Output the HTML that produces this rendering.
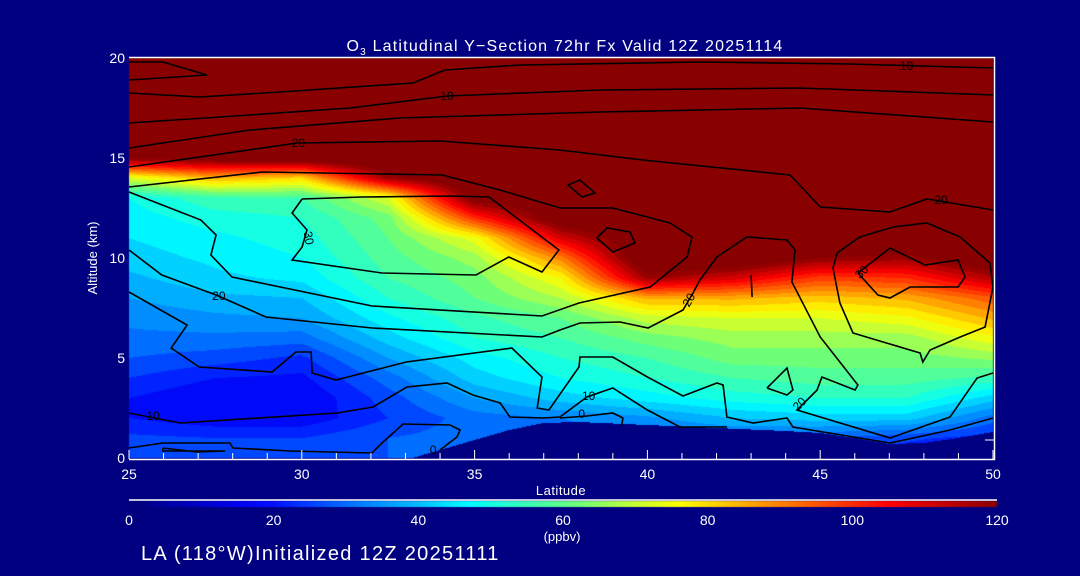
<!DOCTYPE html>
<html><head><meta charset="utf-8"><style>
html,body{margin:0;padding:0;background:#000080;}
#wrap{position:relative;width:1080px;height:576px;background:#000080;overflow:hidden;font-family:"Liberation Sans",sans-serif;color:#fff;}
canvas{position:absolute;left:0;top:0;}
svg{position:absolute;left:0;top:0;}
</style></head><body>
<div id="wrap">
<canvas id="cv" width="1080" height="576"></canvas>
<svg id="sv" width="1080" height="576"></svg>
</div>
<script>
// ---- data ----
const lats=[25,27.5,30,32.5,35,37.5,40,42.5,45,47.5,50];
const alts=[0,1,2,3,4,5,6,7,8,9,10,11,12,13,14,15,16,17,18,19,20];
const o3_25  =[28,25,20,20,24,28,31,33,36,39,42,44,46,48,72,122,130,130,130,130,130];
const o3_27 =[28,24,17,16,20,26,31,35,39,43,45,47,50,55,85,125,130,130,130,130,130];
const o3_30  =[25,24,17,16,19,23,30,36,40,45,48,50,52,56,80,128,130,130,130,130,130];
const o3_32 =[28,28,24,26,30,36,42,47,52,56,58,60,62,72,118,130,130,130,130,130,130];
const o3_35  =[30,30,30,36,42,46,52,55,60,62,66,74,100,125,130,130,130,130,130,130,130];
const o3_37 =[30,30,32,42,48,52,56,60,68,76,90,110,128,130,130,130,130,130,130,130,130];
const o3_40  =[30,30,35,46,52,56,62,70,85,118,130,130,130,130,130,130,130,130,130,130,130];
const o3_42 =[30,30,40,50,56,62,66,72,85,110,130,130,130,130,130,130,130,130,130,130,130];
const o3_45  =[28,28,42,52,58,62,66,72,82,98,120,130,130,130,130,130,130,130,130,130,130];
const o3_47 =[20,25,42,52,58,62,66,75,85,100,118,130,130,130,130,130,130,130,130,130,130];
const o3_50  =[15,22,30,42,55,65,75,85,95,115,130,130,130,130,130,130,130,130,130,130,130];
const terrainLat=[25,33.2,34,35,36,37,38,40,42,44,45,46,47,48,49,50];
const terrainAlt=[0,0,0.4,0.9,1.4,1.75,1.8,1.65,1.5,1.35,1.25,1.0,0.7,0.75,1.0,1.3];
const xTicks=[25,30,35,40,45,50];
const yTicks=[0,5,10,15,20];
const cbTicks=[0,20,40,60,80,100,120];
// contour polylines [lat,alt]
const cTop=[[25,18.9],[27.26,19.15],[25.98,19.8],[25,19.8]];
const cS1=[[25,18.25],[27.05,18.05],[29.37,18.3],[33.22,18.75],[34.14,19.4],[36.31,19.65],[41.52,19.8],[45.86,19.7],[50,19.5]];
const cS2=[[25,16.75],[28.5,17.15],[31.39,17.5],[34.2,18.1],[38.63,18.4],[44.42,18.5],[50,18.15]];
const cS3=[[25,15.5],[28.5,16.4],[32.84,17.0],[38.63,17.3],[44.42,17.5],[50,16.8]];
const cS4=[[25,14.55],[27.05,15.05],[29.86,15.75],[34,15.85],[37.47,15.4],[39.87,14.9],[44.13,14.15],[44.62,13.25],[45,12.55],[47.02,12.3],[48.09,12.95],[50,12.4]];
const cP=[[25,13.55],[28.85,14.3],[34.06,14.15],[35.74,13.4],[37.47,12.5],[39,12.5],[40.65,11.75],[41.29,11.05],[41.15,10.05],[40.08,8.55],[38.02,7.75],[36.95,7.1],[32.03,7.6],[27.98,9.05],[27.37,10.15],[27.52,11.15],[27.08,11.9],[25,13.3]];
const c30=[[30.01,12.95],[31.74,13.05],[34.3,13.1],[35.42,13.05],[37.44,10.4],[36.95,9.3],[35.99,10.05],[35.04,9.15],[32.32,9.25],[29.72,9.9],[30.01,10.55],[30.15,11.4],[29.72,12.25],[30.01,12.95]];
const c20a=[[25,10.4],[25.95,9.15],[27.52,8.15],[28.96,7.05],[32.03,6.5],[36.95,6.05],[37.47,6.4],[38.05,6.75],[39.21,6.8],[40.02,6.5],[41.03,7.4],[41.32,8.25],[41.52,8.9],[42.01,10.05],[42.88,11.05],[44.04,10.9],[44.27,10.4],[44.18,8.8],[45,6.05],[46.09,3.65],[46.01,3.4],[45.05,4.05],[44.91,3.4],[44.33,2.4],[47.02,1.0],[48.76,2.05],[49.54,4.0],[50,4.25]];
const cR30=[[46.09,9.25],[47.02,10.5],[48.03,9.65],[48.99,9.9],[49.19,9.05],[48.99,8.55],[47.6,8.55],[47.02,8.0],[46.67,8.15],[46.09,9.25]];
const cRout=[[45.37,9.5],[45.49,10.25],[46.15,11.05],[47.11,11.55],[48.09,11.75],[49.05,11.05],[49.91,9.75],[50,8.55],[49.77,6.55],[49.05,6.05],[48.18,5.4],[47.97,4.8],[47.89,5.25],[45.95,6.25],[45.57,7.75],[45.37,9.5]];
const cA=[[37.7,13.65],[38.05,13.9],[38.48,13.25],[38.11,13.05],[37.7,13.65]];
const cB=[[38.54,11.0],[38.83,11.5],[39.5,11.3],[39.64,10.75],[39.0,10.3],[38.54,11.0]];
const cC=[[43.46,3.5],[44.04,4.5],[44.21,3.4],[44.04,3.15],[43.46,3.5]];
const cV=[[43.0,9.15],[43.03,8.05]];
const cM=[[25,8.3],[26.68,6.65],[26.22,5.5],[27.03,4.55],[29.14,4.3],[29.83,5.3],[30.27,5.3],[30.3,4.25],[30.99,3.9],[33.02,4.8],[36.08,5.5],[36.95,4.05],[36.81,2.5],[37.15,2.4],[38.02,4.55],[38.05,5.05],[39.0,5.05],[40.0,4.05],[41.03,3.1],[42.01,3.75],[42.19,3.65],[42.3,2.05],[43.06,1.75],[44.04,2.0],[44.21,1.55],[47.02,0.75],[48.76,1.4],[50,2.0]];
const cT10=[[25,2.25],[26.48,1.75],[31.02,2.25],[32.06,2.55],[33.04,3.55],[34.2,3.75],[34.95,3.15],[35.74,2.75],[36.02,2.05],[36.98,2.0],[37.47,2.05],[38.25,3.05],[39,3.5],[40,2.4],[40.94,1.55],[42.3,1.55]];
const c0=[[25,0.5],[25.98,0.75],[27.92,0.75],[28.01,0.5],[29.66,0.35],[32.03,0.25],[32.32,0.75],[32.93,1.7],[34.29,1.65],[34.58,1.4],[34.49,1.05],[34.0,0.4]];
const c0s=[[25.98,0.5],[26.97,0.3],[27.78,0.35],[25.98,0.35],[25.98,0.5]];
const c0r=[[37.47,2.0],[38.25,2.1],[39,2.25],[39.29,2.0],[39.26,1.65]];
const contours=[cTop,cS1,cS2,cS3,cS4,cP,c30,c20a,cR30,cRout,cA,cB,cC,cV,cM,cT10,c0,c0s,c0r];
const labelText=["10","20","30","20","10","0","10","20","30","20","20","10","0"];
const labelLat=[34.2,29.9,30.2,27.6,25.7,33.8,47.5,48.5,46.2,41.2,44.4,38.3,38.1];
const labelAlt=[18.1,15.75,11.0,8.1,2.1,0.4,19.6,12.9,9.3,7.9,2.7,3.1,2.2];
const labelRot=[0,0,80,0,0,0,0,0,-45,-60,-45,0,0];

// ---- axes ----
const X0=129,X1=993,Y0=458,Y1=58;
const xs=l=>X0+(l-25)/25*(X1-X0);
const ys=a=>Y0-(a/20)*(Y0-Y1);
const CB0=129,CB1=997;
const cbx=v=>CB0+v/120*(CB1-CB0);

const stops=[[0,[0,0,120]],[15,[0,0,240]],[20,[0,16,255]],[30,[0,110,255]],[40,[0,190,255]],[47,[0,255,255]],[54,[50,255,190]],[62,[110,255,120]],[70,[200,255,50]],[76,[255,255,0]],[90,[255,128,0]],[105,[255,0,0]],[120,[136,0,0]]];
function cmap(v){v=Math.max(0,Math.min(120,v));
 for(let i=1;i<stops.length;i++){if(v<=stops[i][0]){const a=stops[i-1],b=stops[i],t=(v-a[0])/(b[0]-a[0]);
  return [0,1,2].map(k=>Math.round(a[1][k]+(b[1][k]-a[1][k])*t));}}
 return stops[stops.length-1][1];}
const cols=[o3_25,o3_27,o3_30,o3_32,o3_35,o3_37,o3_40,o3_42,o3_45,o3_47,o3_50];
function field(lat,alt){
 let fi=(lat-25)/2.5, i=Math.min(lats.length-2,Math.max(0,Math.floor(fi))), tx=fi-i;
 let j=Math.min(alts.length-2,Math.max(0,Math.floor(alt))), ty=alt-j;
 const a=cols[i][j],b=cols[i+1][j],c=cols[i][j+1],d=cols[i+1][j+1];
 return (a*(1-tx)+b*tx)*(1-ty)+(c*(1-tx)+d*tx)*ty;}
function terrain(lat){for(let i=1;i<terrainLat.length;i++){if(lat<=terrainLat[i]){const t=(lat-terrainLat[i-1])/(terrainLat[i]-terrainLat[i-1]);return terrainAlt[i-1]+(terrainAlt[i]-terrainAlt[i-1])*t;}}return terrainAlt[terrainAlt.length-1];}

const cv=document.getElementById('cv'),ctx=cv.getContext('2d');
ctx.fillStyle='#000080';ctx.fillRect(0,0,1080,576);
const W=X1-X0,H=Y0-Y1;const img=ctx.createImageData(W,H);
for(let py=0;py<H;py++){const alt=(Y0-(Y1+py+0.5))/(Y0-Y1)*20;
 for(let px=0;px<W;px++){const lat=25+(px+0.5)/W*25;let c;
  if(alt<terrain(lat)) c=[0,0,128]; else {let v=field(lat,alt);v=Math.floor(v/4)*4+2;c=cmap(v);}
  const k=(py*W+px)*4;img.data[k]=c[0];img.data[k+1]=c[1];img.data[k+2]=c[2];img.data[k+3]=255;}}
ctx.putImageData(img,X0,Y1);
// colorbar
for(let x=CB0;x<CB1;x++){const c=cmap((x-CB0)/(CB1-CB0)*120);ctx.fillStyle=`rgb(${c[0]},${c[1]},${c[2]})`;ctx.fillRect(x,501,1,6);}

// ---- svg overlay ----
const NS='http://www.w3.org/2000/svg',sv=document.getElementById('sv');
function mk(t,attrs,parent){const e=document.createElementNS(NS,t);for(const k in attrs)e.setAttribute(k,attrs[k]);(parent||sv).appendChild(e);return e;}
const gC=mk('g',{});


contours.forEach((c,i)=>{const p=mk('polyline',{points:c.map(q=>xs(q[0]).toFixed(1)+','+ys(q[1]).toFixed(1)).join(' '),fill:'none',stroke:'#000',"stroke-width":1.6},gC);
 
 });
labelText.forEach((t,i)=>{const x=xs(labelLat[i]),y=ys(labelAlt[i]);
 const e=mk('text',{x:x,y:y+4,fill:'#000','font-size':12,'text-anchor':'middle',transform:`rotate(${labelRot[i]} ${x} ${y})`},gC);e.textContent=t;
 
 });
// frame
const fr=mk('path',{d:`M${X0} ${Y1-0.5}H${X1+1.5}V${Y0+1.5}H${X0}`,fill:'none',stroke:'#fff','stroke-width':1.5});


// x ticks
for(let l=25;l<=50;l++){const major=l%5===0;const x=xs(l);
 const t=mk('line',{x1:x,x2:x,y1:Y0+1,y2:Y0-(major?8:5),stroke:'#fff','stroke-width':1});
 
 }
xTicks.forEach(v=>{const e=mk('text',{x:xs(v),y:479,fill:'#fff','font-size':14,'text-anchor':'middle'});e.textContent=v;
 
 });
yTicks.forEach(v=>{const e=mk('text',{x:125,y:ys(v)+5,fill:'#fff','font-size':14,'text-anchor':'end'});e.textContent=v;
 
 });
[0.9].forEach(a=>{const y=ys(a);const t=mk('line',{x1:X1+1,x2:X1-8,y1:y,y2:y,stroke:'#fff','stroke-width':1});
 
 });
// colorbar line & labels
const cbl=mk('line',{x1:CB0,x2:CB1,y1:500,y2:500,stroke:'#fff','stroke-width':1.5});


cbTicks.forEach(v=>{const e=mk('text',{x:cbx(v),y:525,fill:'#fff','font-size':14,'text-anchor':'middle'});e.textContent=v;
 
 });
function txt(s,attrs,name){const e=mk('text',Object.assign({fill:'#fff'},attrs));e.textContent=s;
 
 return e;}
const ti=mk('text',{x:565,y:51,fill:'#fff','font-size':16,'text-anchor':'middle','letter-spacing':'1.2'});
ti.innerHTML='O<tspan font-size="10" dy="4">3</tspan><tspan dy="-4"> Latitudinal Y−Section 72hr  Fx Valid 12Z 20251114</tspan>';


ti.setAttribute('xml:space','preserve');
txt('Latitude',{x:561,y:495,'font-size':13,'text-anchor':'middle','letter-spacing':'0.5'},'x-axis-title');
txt('Altitude (km)',{x:97,y:258,'font-size':13,'text-anchor':'middle',transform:'rotate(-90 97 258)'},'y-axis-title');
txt('(ppbv)',{x:562,y:541,'font-size':13,'text-anchor':'middle'},'colorbar-unit');
txt('LA (118°W)Initialized 12Z 20251111',{x:141,y:560,'font-size':20,'letter-spacing':'1.3'},'footer-caption');
</script>
</body></html>
